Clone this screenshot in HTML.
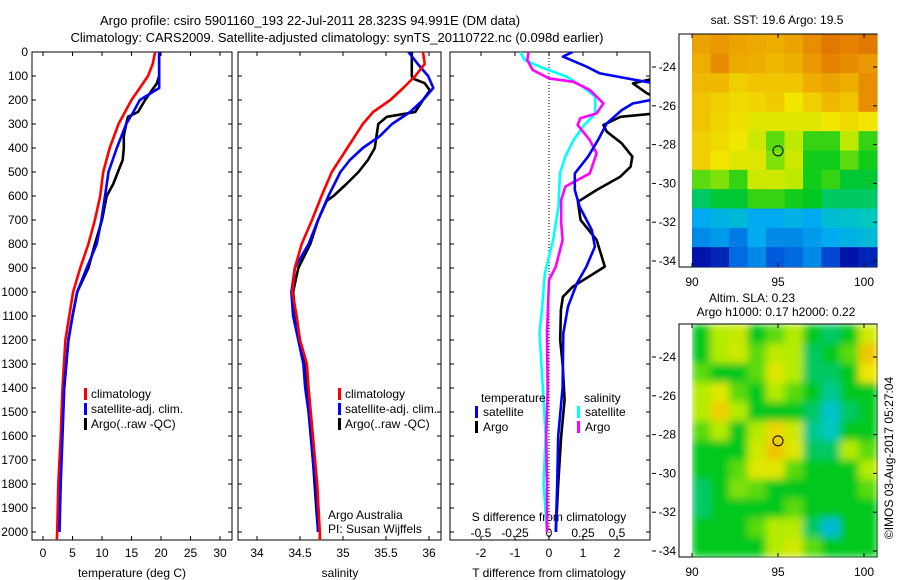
<!DOCTYPE html>
<html><head><meta charset="utf-8"><style>
body{margin:0;background:#fff;}
svg{display:block;font-family:"Liberation Sans",sans-serif;}
text{font-size:12px;fill:#000;}
</style></head><body>
<svg id="c" width="900" height="580" viewBox="0 0 900 580">
<defs>
<clipPath id="cp1"><rect x="32" y="52" width="200" height="488"/></clipPath>
<clipPath id="cp2"><rect x="238" y="52" width="203" height="488"/></clipPath>
<clipPath id="cp3"><rect x="450" y="52" width="200" height="488"/></clipPath>
<filter id="blur2" x="0" y="0" width="1" height="1"><feGaussianBlur stdDeviation="4" edgeMode="duplicate"/></filter>
</defs>
<text x="310" y="25" text-anchor="middle" style="font-size:13px">Argo profile: csiro 5901160_193 22-Jul-2011 28.323S 94.991E (DM data)</text>
<text x="337" y="42" text-anchor="middle" style="font-size:13px">Climatology: CARS2009. Satellite-adjusted climatology: synTS_20110722.nc (0.098d earlier)</text>
<g id="g"></g>
</svg>
<script>
// ---- profile data ----
const tDepthRed=[0,50,100,150,200,250,300,400,500,600,700,800,900,1000,1200,1400,1600,1800,2000,2050];
const tempRed=[19.0,18.6,17.8,16.4,15.0,13.9,12.8,11.3,10.2,9.7,8.8,7.7,6.3,5.1,3.8,3.3,3.0,2.6,2.4,2.3];
const tDepthBlue=[0,150,200,250,300,400,500,600,700,800,900,1000,1100,1200,1400,1600,1800,2000];
const tempBlue=[19.7,19.7,16.4,15.3,14.1,12.5,11.1,10.5,9.9,9.1,7.4,5.8,5.0,4.3,3.6,3.3,3.0,2.8];
const tDepthBlack=[0,100,130,200,250,270,300,350,400,450,500,550,600,700,800,900,1000,1100,1200,1400,1600,1800,2000];
const tempBlack=[19.7,19.7,19.3,17.3,16.1,14.4,14.1,13.7,13.7,13.5,12.7,11.9,10.8,10.0,8.8,7.7,5.8,5.0,4.3,3.6,3.2,2.9,2.7];

const sDepthRed=[0,50,100,150,200,250,300,400,500,600,700,800,900,1000,1100,1200,1300,1400,1600,1800,2000,2050];
const salRed=[35.93,35.95,35.84,35.70,35.55,35.35,35.23,35.05,34.87,34.75,34.64,34.52,34.44,34.41,34.46,34.50,34.58,34.60,34.65,34.70,34.73,34.73];
const sDepthBlue=[0,50,100,150,200,250,300,350,400,450,500,600,700,800,900,1000,1100,1200,1300,1400,1500,1600,1700,1800,1900,2000];
const salBlue=[35.76,35.87,35.99,36.05,35.93,35.78,35.57,35.43,35.23,35.08,34.97,34.83,34.71,34.60,34.44,34.40,34.42,34.48,34.54,34.56,34.60,34.63,34.65,34.68,34.70,34.71];
const sDepthBlack=[0,100,110,130,160,200,250,270,300,350,400,450,500,550,600,620,700,800,900,1000,1100,1200,1300,1500,1700,1900,2000];
const salBlack=[35.80,35.80,35.81,35.95,36.01,35.93,35.84,35.51,35.41,35.39,35.37,35.29,35.18,35.04,34.89,34.81,34.71,34.62,34.48,34.42,34.45,34.50,34.55,34.60,34.65,34.69,34.71];

const dTDepthSat=[0,19,61,89,131,200,214,242,297,367,436,506,575,644,742,811,894,964,1061,1172,1400,1600,1800,2000];
const dTSat=[0.7,0.41,1.1,1.5,3.1,3.0,2.47,2.14,1.7,1.44,1.15,0.76,0.76,0.9,1.26,1.35,1.1,0.82,0.56,0.42,0.4,0.27,0.24,0.2];
const dTDepthArgo=[0,100,131,172,193,255,270,304,332,381,436,478,519,575,624,700,783,894,978,1020,1075,1200,1300,1450,1600,1800,2000];
const dTArgo=[3.6,3.4,2.47,2.88,3.2,3.2,2.1,1.6,1.7,2.14,2.45,2.4,2.1,1.4,0.85,0.93,1.4,1.64,0.7,0.41,0.35,0.33,0.4,0.46,0.36,0.27,0.2];
const dSDepthArgo=[0,33,75,110,124,158,214,256,276,304,367,422,506,561,617,714,783,894,950,1172,1400,1600,1800,2000];
const dSArgo=[-0.15,-0.16,-0.12,0.0,0.18,0.3,0.4,0.35,0.23,0.21,0.3,0.35,0.3,0.12,0.09,0.09,0.1,0.05,0.0,-0.015,-0.01,-0.02,-0.015,-0.015];
const dSDepthSat=[0,33,61,103,145,186,256,311,367,436,506,644,783,922,1061,1172,1400,1600,1800,2000];
const dSSat=[-0.21,-0.18,-0.07,0.13,0.25,0.34,0.34,0.25,0.18,0.12,0.08,0.07,0.03,-0.03,-0.05,-0.07,-0.045,-0.025,-0.04,-0.015];

// ---- map data (normalized colour values) ----
const sstGrid=[
[.74,.76,.74,.73,.72,.74,.78,.82,.80,.82],
[.72,.78,.73,.72,.70,.72,.76,.80,.78,.76],
[.70,.70,.66,.68,.68,.68,.72,.74,.72,.78],
[.68,.66,.64,.65,.67,.62,.66,.70,.68,.78],
[.68,.65,.63,.60,.60,.60,.60,.62,.64,.62],
[.66,.64,.62,.58,.50,.56,.48,.48,.56,.48],
[.66,.62,.60,.60,.52,.58,.46,.46,.50,.46],
[.50,.52,.48,.58,.58,.56,.46,.48,.44,.44],
[.42,.44,.44,.48,.48,.46,.45,.42,.42,.42],
[.30,.32,.34,.30,.30,.32,.30,.35,.36,.38],
[.26,.28,.24,.30,.26,.26,.28,.30,.32,.34],
[.12,.14,.22,.26,.20,.22,.26,.18,.12,.14]];
const slaGrid=[
[.45,.55,.57,.45,.50,.55,.45,.42,.45,.58],
[.45,.55,.58,.50,.56,.55,.42,.45,.50,.68],
[.50,.45,.45,.50,.60,.55,.42,.42,.45,.62],
[.55,.60,.50,.45,.55,.50,.45,.40,.45,.45],
[.55,.66,.55,.45,.45,.45,.42,.36,.42,.45],
[.50,.55,.45,.55,.65,.58,.40,.38,.45,.45],
[.45,.45,.45,.58,.68,.60,.42,.42,.55,.50],
[.45,.45,.50,.60,.60,.50,.45,.45,.45,.55],
[.42,.45,.52,.50,.45,.45,.45,.45,.45,.50],
[.42,.45,.45,.45,.45,.50,.45,.45,.45,.45],
[.45,.45,.45,.50,.55,.55,.42,.34,.45,.45],
[.45,.45,.45,.45,.55,.58,.50,.45,.45,.45]];
const depthTicks=[0,100,200,300,400,500,600,700,800,900,1000,1100,1200,1300,1400,1500,1600,1700,1800,1900,2000];
const tempTicks=[0,5,10,15,20,25,30];
const salTicks=[34,34.5,35,35.5,36];
const dTTicks=[-2,-1,0,1,2];
const dSTicks=[-0.5,-0.25,0,0.25,0.5];
const dSTickLabels=["-0.5","-0.25","0","0.25","0.5"];
const latTicks=[-24,-26,-28,-30,-32,-34];
const lonTicks=[90,95,100];
const argoLon=95.0, argoLat=-28.323;

const NS="http://www.w3.org/2000/svg";
const G=document.getElementById('g');
function mk(tag,attrs,parent){const e=document.createElementNS(NS,tag);for(const k in attrs)e.setAttribute(k,attrs[k]);(parent||G).appendChild(e);return e;}
function txt(x,y,s,anchor,parent){const e=mk('text',{x:x,y:y,'text-anchor':anchor||'start'},parent);e.textContent=s;return e;}

const yD=d=>52+d*0.24;
const xT=t=>43+t*5.9;
const xS=s=>257+(s-34)*86;
const xdT=v=>549+v*34;
const xdS=v=>549+v*136;

function panel(x0,x1,name){
  const r=mk('rect',{x:x0,y:52,width:x1-x0,height:488,fill:'none',stroke:'#000','stroke-width':1});
  
  
  depthTicks.forEach(d=>{
    const y=yD(d);
    mk('line',{x1:x0,y1:y,x2:x0+4,y2:y,stroke:'#000'});
    mk('line',{x1:x1-4,y1:y,x2:x1,y2:y,stroke:'#000'});
  });
}
function line(depths,vals,xf,color,clip,name,w){
  const pts=depths.map((d,i)=>xf(vals[i]).toFixed(1)+','+yD(d).toFixed(1)).join(' ');
  const p=mk('polyline',{points:pts,fill:'none',stroke:color,'stroke-width':w||2.6,'clip-path':'url(#'+clip+')','stroke-linejoin':'round'});
  
  
}
// panel 1
panel(32,232,'temperature-panel');
depthTicks.forEach(d=>{const t=txt(28,yD(d)+4,String(d),'end');});
tempTicks.forEach(v=>{const x=xT(v);mk('line',{x1:x,y1:540,x2:x,y2:536,stroke:'#000'});mk('line',{x1:x,y1:52,x2:x,y2:56,stroke:'#000'});const t=txt(x,557,String(v),'middle');});
let t1=txt(132,577,'temperature (deg C)','middle');
line(tDepthBlack,tempBlack,xT,'#000','cp1','temp-argo-line');
line(tDepthRed,tempRed,xT,'#f00','cp1','temp-climatology-line');
line(tDepthBlue,tempBlue,xT,'#00f','cp1','temp-satellite-line');
// panel 2
panel(238,441,'salinity-panel');
salTicks.forEach(v=>{const x=xS(v);mk('line',{x1:x,y1:540,x2:x,y2:536,stroke:'#000'});mk('line',{x1:x,y1:52,x2:x,y2:56,stroke:'#000'});const t=txt(x,557,String(v),'middle');});
let t2=txt(340,577,'salinity','middle');
line(sDepthBlack,salBlack,xS,'#000','cp2','sal-argo-line');
line(sDepthBlue,salBlue,xS,'#00f','cp2','sal-satellite-line');
line(sDepthRed,salRed,xS,'#f00','cp2','sal-climatology-line');
// legends
function legend(x,labels,colors,name){
  labels.forEach((l,i)=>{const y=398+i*15;
    const m=mk('rect',{x:x,y:y-10,width:3,height:12,fill:colors[i]});
    
    const t=txt(x+7,y,l);});
}
legend(84,['climatology','satellite-adj. clim.','Argo(..raw -QC)'],['#f00','#00f','#000'],'temp-legend');
legend(338,['climatology','satellite-adj. clim.','Argo(..raw -QC)'],['#f00','#00f','#000'],'sal-legend');
let a1=txt(328,519,'Argo Australia');
let a2=txt(328,533,'PI: Susan Wijffels');
// panel 3
panel(450,650,'difference-panel');
mk('line',{x1:549,y1:52,x2:549,y2:540,stroke:'#000','stroke-dasharray':'1,2','stroke-width':1});
dTTicks.forEach(v=>{const x=xdT(v);mk('line',{x1:x,y1:540,x2:x,y2:536,stroke:'#000'});mk('line',{x1:x,y1:52,x2:x,y2:56,stroke:'#000'});const t=txt(x,557,String(v),'middle');});
let t3=txt(549,577,'T difference from climatology','middle');
let t4=txt(549,521,'S difference from climatology','middle');
dSTicks.forEach((v,i)=>{const t=txt(xdS(v),537,dSTickLabels[i],'middle');});
line(dSDepthSat,dSSat,xdS,'#0ff','cp3','dS-satellite-line');
line(dSDepthArgo,dSArgo,xdS,'#f0f','cp3','dS-argo-line');
line(dTDepthArgo,dTArgo,xdT,'#000','cp3','dT-argo-line');
line(dTDepthSat,dTSat,xdT,'#00f','cp3','dT-satellite-line');
let lt=txt(481,402,'temperature');
let ls=txt(584,402,'salinity');
[['satellite','#00f',475],['Argo','#000',475]].forEach((e,i)=>{const y=416+i*15;mk('rect',{x:e[2],y:y-10,width:3,height:12,fill:e[1]});const t=txt(e[2]+8,y,e[0]);});
[['satellite','#0ff',577],['Argo','#f0f',577]].forEach((e,i)=>{const y=416+i*15;mk('rect',{x:e[2],y:y-10,width:3,height:12,fill:e[1]});const t=txt(e[2]+8,y,e[0]);});

// maps — colour ramp
const cmapStops=[0,0.12,0.2,0.3,0.38,0.45,0.55,0.62,0.7,0.8,0.9,1];
const cmapCols=[[0,0,120],[0,20,170],[0,90,220],[0,170,240],[0,200,190],[0,200,30],[180,235,0],[240,230,0],[240,185,0],[230,130,0],[205,85,0],[160,40,0]];
function cmap(v){
  v=Math.max(0,Math.min(1,v));
  let i=0;while(i<cmapStops.length-2&&v>cmapStops[i+1])i++;
  const f=(v-cmapStops[i])/(cmapStops[i+1]-cmapStops[i]);
  const a=cmapCols[i],b=cmapCols[i+1];
  return 'rgb('+a.map((c,k)=>Math.round(c+(b[k]-c)*f)).join(',')+')';
}
function map(oy,grid,name,blur){
  const fr=mk('rect',{x:679,y:34+oy,width:198,height:233,fill:'#fff',stroke:'#000'});
  
  const gg=mk('g',blur?{filter:'url(#blur2)'}:{});
  
  const rows=grid.length, cols=grid[0].length, cw=185/cols, ch=232/rows;
  grid.forEach((row,i)=>row.forEach((v,j)=>{
    const c=mk('rect',{x:(692+j*cw).toFixed(2),y:(34.5+oy+i*ch).toFixed(2),width:(cw+0.6).toFixed(2),height:(ch+0.6).toFixed(2),fill:cmap(v)},gg);
    
    
  }));
  const latY=l=>67+oy+(-24-l)*19.4;
  const lonX=l=>692+(l-90)*17.2;
  latTicks.forEach(l=>{const y=latY(l);mk('line',{x1:652,y1:y,x2:656,y2:y,stroke:'#000'});mk('line',{x1:873,y1:y,x2:877,y2:y,stroke:'#000'});const t=txt(676,y+4,String(l),'end');});
  lonTicks.forEach(l=>{const x=lonX(l);mk('line',{x1:x,y1:34+oy,x2:x,y2:38+oy,stroke:'#000'});mk('line',{x1:x,y1:263+oy,x2:x,y2:267+oy,stroke:'#000'});const t=txt(x,286+oy,String(l),'middle');});
  const ci=mk('circle',{cx:lonX(argoLon),cy:latY(argoLat),r:5,fill:'none',stroke:'#000','stroke-width':1});
  
}
map(0,sstGrid,'sst-map',false);
map(290,slaGrid,'sla-map',true);
let m1=txt(777,24,'sat. SST: 19.6 Argo: 19.5','middle');
let m2=txt(752,302,'Altim. SLA: 0.23','middle');
let m3=txt(776,316,'Argo h1000: 0.17 h2000: 0.22','middle');
let cr=txt(0,0,'©IMOS 03-Aug-2017 05:27:04','middle');
cr.setAttribute('transform','translate(893,458) rotate(-90)');

</script>
</body></html>
